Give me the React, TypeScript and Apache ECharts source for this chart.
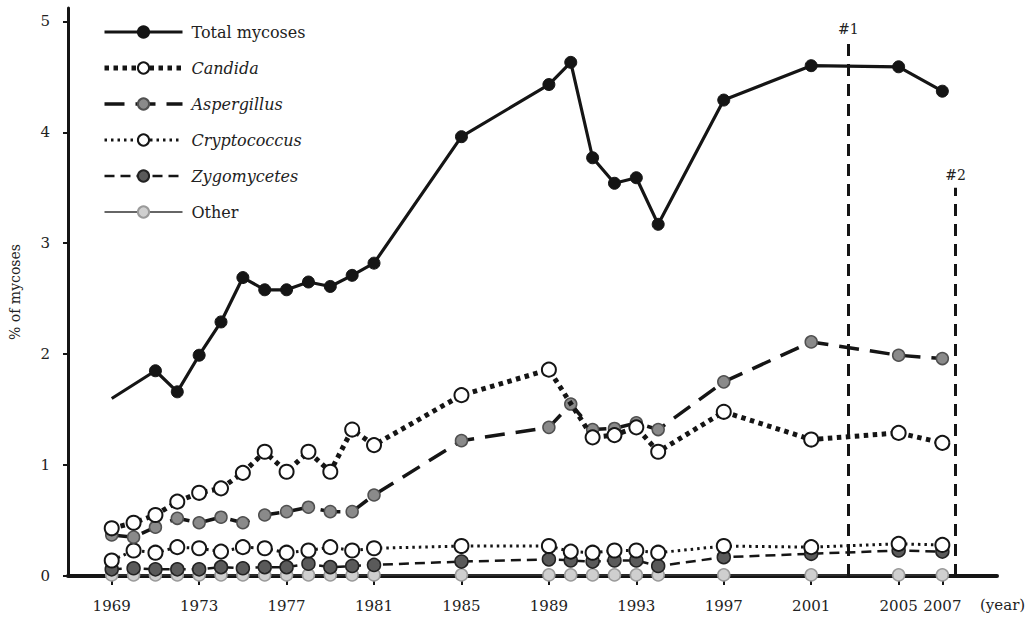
import { useEffect, useRef } from "react";
import * as echarts from "echarts";

// Survey years (x positions of all series)
const years = [
  1969, 1970, 1971, 1972, 1973, 1974, 1975, 1976, 1977, 1978, 1979, 1980, 1981,
  1985, 1989, 1990, 1991, 1992, 1993, 1994, 1997, 2001, 2005, 2007,
];
const xTickYears = [1969, 1973, 1977, 1981, 1985, 1989, 1993, 1997, 2001, 2005, 2007];
const yTickValues = [0, 1, 2, 3, 4, 5];

// % of mycoses per year
const totalMycoses = [
  1.6, null, 1.85, 1.66, 1.99, 2.29, 2.69, 2.58, 2.58, 2.65, 2.61, 2.71, 2.82,
  3.96, 4.43, 4.63, 3.77, 3.54, 3.59, 3.17, 4.29, 4.6, 4.59, 4.37,
];
const candida = [
  0.43, 0.48, 0.55, 0.67, 0.75, 0.79, 0.93, 1.12, 0.94, 1.12, 0.94, 1.32, 1.18,
  1.63, 1.86, null, 1.25, 1.27, 1.34, 1.12, 1.48, 1.23, 1.29, 1.2,
];
const aspergillus = [
  0.37, 0.35, 0.44, 0.52, 0.48, 0.53, 0.48, 0.55, 0.58, 0.62, 0.58, 0.58, 0.73,
  1.22, 1.34, 1.55, 1.32, 1.33, 1.38, 1.32, 1.75, 2.11, 1.99, 1.96,
];
const cryptococcus = [
  0.14, 0.23, 0.21, 0.26, 0.25, 0.22, 0.26, 0.25, 0.21, 0.23, 0.26, 0.23, 0.25,
  0.27, 0.27, 0.22, 0.21, 0.23, 0.23, 0.21, 0.27, 0.26, 0.29, 0.28,
];
const zygomycetes = [
  0.06, 0.07, 0.06, 0.06, 0.06, 0.08, 0.07, 0.08, 0.08, 0.11, 0.08, 0.09, 0.1,
  0.13, 0.15, 0.14, 0.13, 0.14, 0.14, 0.09, 0.17, 0.2, 0.23, 0.22,
];
const other = [
  0.01, 0.01, 0.01, 0.01, 0.01, 0.01, 0.01, 0.01, 0.01, 0.01, 0.01, 0.01, 0.01,
  0.01, 0.01, 0.01, 0.01, 0.01, 0.01, 0.01, 0.01, 0.01, 0.01, 0.01,
];

// Reference lines marked on the chart
const markers = [
  { name: "#1", year: 2002.7, top: 4.81 },
  { name: "#2", year: 2007.6, top: 3.5 },
];

const seriesNames = ["Total mycoses", "Candida", "Aspergillus", "Cryptococcus", "Zygomycetes", "Other"];
const italicNames = ["Candida", "Aspergillus", "Cryptococcus", "Zygomycetes"];

const FONT = "DejaVu Serif";
const INK = "#151515";

function pairs(values: (number | null)[]) {
  return years.map((y, i) => [y, values[i]]);
}

export default function App() {
  const ref = useRef<HTMLDivElement>(null);

  useEffect(() => {
    if (!ref.current) return;
    const chart = echarts.init(ref.current, undefined, { renderer: "svg" });

    const totalData = pairs(totalMycoses).map((p, i) =>
      i === 0 ? { value: p, symbol: "none" } : { value: p }
    );

    chart.setOption({
      animation: false,
      backgroundColor: "#ffffff",
      grid: { left: 63, top: 8, width: 934, height: 568, containLabel: false },
      legend: {
        orient: "vertical",
        left: 102,
        top: 24,
        padding: 0,
        itemWidth: 78,
        itemHeight: 14,
        itemGap: 20,
        data: seriesNames,
        lineStyle: { width: "inherit", type: "inherit" },
        formatter: (name: string) =>
          italicNames.includes(name) ? `{i|${name}}` : `{n|${name}}`,
        textStyle: {
          fontFamily: FONT,
          fontSize: 16,
          color: "#222",
          padding: [0, 0, 0, 4],
          rich: {
            i: { fontFamily: FONT, fontSize: 16, fontStyle: "italic", color: "#222" },
            n: { fontFamily: FONT, fontSize: 16, color: "#222" },
          },
        },
      },
      xAxis: {
        type: "value",
        min: 1967,
        max: 2009.5,
        splitLine: { show: false },
        axisLine: { show: true, onZero: false, lineStyle: { color: INK, width: 4 } },
        axisTick: {
          show: true,
          customValues: xTickYears,
          length: 9,
          inside: false,
          lineStyle: { color: INK, width: 2 },
        },
        axisLabel: {
          customValues: xTickYears,
          margin: 22,
          fontFamily: FONT,
          fontSize: 15,
          color: "#222",
          formatter: (v: number) => String(v),
        },
      },
      yAxis: {
        type: "value",
        min: 0,
        max: 5.12,
        name: "% of mycoses",
        nameLocation: "middle",
        nameRotate: 90,
        nameGap: 46,
        nameTextStyle: { fontFamily: FONT, fontSize: 14, color: "#222" },
        splitLine: { show: false },
        axisLine: { show: true, lineStyle: { color: INK, width: 3 } },
        axisTick: {
          show: true,
          customValues: yTickValues,
          length: 5,
          lineStyle: { color: INK, width: 2 },
        },
        axisLabel: {
          customValues: yTickValues,
          margin: 18,
          fontFamily: FONT,
          fontSize: 15,
          color: "#222",
        },
      },
      graphic: [
        {
          type: "text",
          left: 980,
          top: 597,
          style: { text: "(year)", font: `15px "${FONT}"`, fill: "#222" },
        },
      ],
      series: [
        {
          name: "Total mycoses",
          type: "line",
          z: 6,
          data: totalData,
          connectNulls: true,
          symbol: "circle",
          symbolSize: 12,
          lineStyle: { color: INK, width: 3.2 },
          itemStyle: { color: INK, borderColor: INK, borderWidth: 1 },
          markLine: {
            silent: true,
            symbol: ["none", "none"],
            lineStyle: { color: INK, width: 3, type: [12, 8] },
            label: {
              show: true,
              position: "end",
              formatter: "{b}",
              distance: 6,
              fontFamily: FONT,
              fontSize: 14,
              color: "#222",
            },
            data: markers.map((m) => [
              { name: m.name, coord: [m.year, 0] },
              { coord: [m.year, m.top] },
            ]),
          },
        },
        {
          name: "Candida",
          type: "line",
          z: 5,
          data: pairs(candida),
          connectNulls: true,
          symbol: "circle",
          symbolSize: 14,
          lineStyle: { color: INK, width: 5, type: [4.5, 4.5], cap: "butt" },
          itemStyle: { color: "#ffffff", borderColor: INK, borderWidth: 2 },
        },
        {
          name: "Aspergillus",
          type: "line",
          z: 4,
          data: pairs(aspergillus),
          symbol: "circle",
          symbolSize: 12,
          lineStyle: { color: INK, width: 3.5, type: [20, 11] },
          itemStyle: { color: "#8a8a8a", borderColor: "#505050", borderWidth: 1.5 },
        },
        {
          name: "Cryptococcus",
          type: "line",
          z: 3,
          data: pairs(cryptococcus),
          symbol: "circle",
          symbolSize: 14,
          lineStyle: { color: INK, width: 3, type: [2.5, 4] },
          itemStyle: { color: "#ffffff", borderColor: INK, borderWidth: 2 },
        },
        {
          name: "Zygomycetes",
          type: "line",
          z: 2,
          data: pairs(zygomycetes),
          symbol: "circle",
          symbolSize: 13,
          lineStyle: { color: INK, width: 2.5, type: [10, 6] },
          itemStyle: { color: "#5a5a5a", borderColor: "#222", borderWidth: 1.5 },
        },
        {
          name: "Other",
          type: "line",
          z: 1,
          data: pairs(other),
          symbol: "circle",
          symbolSize: 12,
          lineStyle: { color: "#333", width: 1.5 },
          itemStyle: { color: "#cfcfcf", borderColor: "#9a9a9a", borderWidth: 1.5 },
        },
      ],
    });

    return () => chart.dispose();
  }, []);

  return (
    <div
      ref={ref}
      style={{ position: "fixed", left: 0, top: 0, width: 1032, height: 617, background: "#fff" }}
    />
  );
}
